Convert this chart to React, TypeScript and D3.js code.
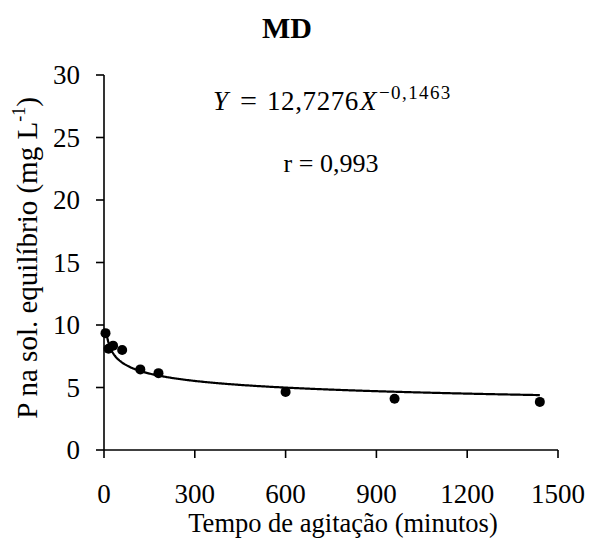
import React from "react";
import * as d3 from "d3";

const timeMinutes = [5, 15, 30, 60, 120, 180, 600, 960, 1440];
const pValues = [9.35, 8.1, 8.35, 8.0, 6.45, 6.15, 4.65, 4.1, 3.85];
const xTicks = [0, 300, 600, 900, 1200, 1500];
const yTicks = [0, 5, 10, 15, 20, 25, 30];
const fitA = 12.7276;
const fitB = -0.1463;
const fitRange = [9, 1440];

const W = 591;
const H = 542;
const margin = { left: 104, right: 33, top: 75, bottom: 92 };
const serif = { fontFamily: "Liberation Serif, Times New Roman, serif" };

export default function App() {
  const x = d3.scaleLinear().domain([0, 1500]).range([margin.left, W - margin.right]);
  const y = d3.scaleLinear().domain([0, 30]).range([H - margin.bottom, margin.top]);
  const fitX = d3.range(fitRange[0], fitRange[1] + 1, 3);
  const line = d3
    .line<number>()
    .x((d) => x(d))
    .y((d) => y(fitA * Math.pow(d, fitB)));
  const x0 = x(0);
  const y0 = y(0);
  return (
    <svg width={W} height={H} style={{ position: "absolute", left: 0, top: 0, background: "#fff" }}>
      <text x={287} y={38} textAnchor="middle" fontWeight="bold" fontSize={30} style={serif}>MD</text>
      <line x1={x0} x2={x(1500)} y1={y0} y2={y0} stroke="#000" strokeWidth={1.6} />
      <line x1={x0} x2={x0} y1={y(30)} y2={y0} stroke="#000" strokeWidth={1.6} />
      {xTicks.map((t) => (
        <g key={"x" + t}>
          <line x1={x(t)} x2={x(t)} y1={y0} y2={y0 + 8} stroke="#000" strokeWidth={1.6} />
          <text x={x(t)} y={503} textAnchor="middle" fontSize={27} style={serif}>{t}</text>
        </g>
      ))}
      {yTicks.map((t) => (
        <g key={"y" + t}>
          <line x1={x0 - 8} x2={x0} y1={y(t)} y2={y(t)} stroke="#000" strokeWidth={1.6} />
          <text x={80} y={y(t) + 9} textAnchor="end" fontSize={27} style={serif}>{t}</text>
        </g>
      ))}
      <path d={line(fitX) || ""} fill="none" stroke="#000" strokeWidth={2.2} />
      {timeMinutes.map((t, i) => (
        <circle key={i} cx={x(t)} cy={y(pValues[i])} r={5} fill="#000" />
      ))}
      <text x={343} y={532} textAnchor="middle" fontSize={26.5} style={serif}>Tempo de agitação (minutos)</text>
      <text transform={`translate(37,258) rotate(-90)`} textAnchor="middle" fontSize={29} style={serif}>
        P na sol. equilíbrio (mg L<tspan dy={-12} fontSize={18}>-1</tspan><tspan dy={12}>)</tspan>
      </text>
      <text y={110} fontSize={27} style={serif}>
        <tspan x={213} fontStyle="italic">Y</tspan>
        <tspan x={240} textLength={17} lengthAdjust="spacingAndGlyphs">=</tspan>
        <tspan x={267} letterSpacing={0.6}>12,7276</tspan>
        <tspan x={360} fontStyle="italic">X</tspan>
      </text>
      <text x={379} y={99} fontSize={19} letterSpacing={1.4} style={serif}>−0,1463</text>
      <text x={331} y={172} textAnchor="middle" fontSize={26} style={serif}>r = 0,993</text>
    </svg>
  );
}
